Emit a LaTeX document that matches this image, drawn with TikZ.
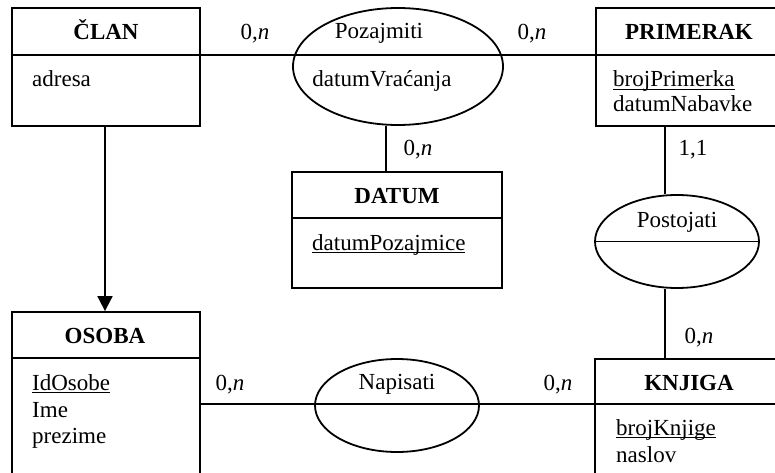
\documentclass[tikz,border=0pt]{standalone}
\usepackage{fontspec}
\setmainfont{Liberation Serif}
\usetikzlibrary{shapes.geometric,arrows.meta}
\newcommand\erfont{\fontsize{23}{27}\selectfont}
\newcommand\undl[1]{\setbox0=\hbox{#1}\rlap{\rule[-3pt]{\wd0}{1.4pt}}\box0}
\tikzset{
  line/.style={line width=1.8pt},
  entity/.style={draw,line width=1.8pt,rectangle,inner sep=0pt},
  rel/.style={draw,line width=1.8pt,ellipse,inner sep=0pt},
  ttl/.style={anchor=base,inner sep=0pt,font=\erfont\bfseries},
  attr/.style={anchor=base west,inner sep=0pt,font=\erfont},
  lbl/.style={anchor=base,inner sep=0pt,font=\erfont},
}
\begin{document}
\begin{tikzpicture}[x=1pt,y=-1pt]
\useasboundingbox (0,0) rectangle (775,473);
\clip (0,0) rectangle (775,473);
% entities
\node[entity,minimum width=188pt,minimum height=118pt] (clan) at (106,67) {};
\node[entity,minimum width=204pt,minimum height=118pt] (primerak) at (698,67) {};
\node[entity,minimum width=210pt,minimum height=116pt] (datum) at (397,230) {};
\node[entity,minimum width=188pt,minimum height=200pt] (osoba) at (106,412) {};
\node[entity,minimum width=205pt,minimum height=160pt] (knjiga) at (697.5,439) {};
% relationships
\node[rel,minimum width=210pt,minimum height=117pt] (pozajmiti) at (398,66.5) {};
\node[rel,minimum width=164pt,minimum height=93pt] (postojati) at (677,241.5) {};
\node[rel,minimum width=164pt,minimum height=93pt] (napisati) at (397,405.5) {};
% dividers
\draw[line] ([yshift=-48pt]clan.north west) -- ([yshift=-48pt]clan.north east);
\draw[line] ([yshift=-48pt]primerak.north west) -- ([yshift=-48pt]primerak.north east);
\draw[line] ([yshift=-47pt]datum.north west) -- ([yshift=-47pt]datum.north east);
\draw[line] ([yshift=-47pt]osoba.north west) -- ([yshift=-47pt]osoba.north east);
\draw[line] ([yshift=-46pt]knjiga.north west) -- ([yshift=-46pt]knjiga.north east);
\draw[line] (postojati.west) -- (postojati.east);
% connectors
\draw[line] ([yshift=-48pt]clan.north east) -- ([yshift=-48pt]primerak.north west);
\draw[line] ([xshift=-11pt]datum.north) -- ([xshift=-11pt]datum.north |- pozajmiti.south);
\draw[line] ([xshift=70pt]primerak.south west) -- ([xshift=70pt]primerak.south west |- postojati.north);
\draw[line] ([xshift=71pt]knjiga.north west |- postojati.south) -- ([xshift=71pt]knjiga.north west);
\draw[line,-{Triangle[width=15pt,length=15pt]}] ([xshift=-1pt]clan.south) -- ([xshift=-1pt]osoba.north);
\draw[line] ([yshift=-93pt]osoba.north east) -- ([yshift=-46pt]knjiga.north west);
% texts
\node[ttl] (clanT) at (106,40) {ČLAN};
\node[attr] (clanA) at (32,87) {adresa};
\node[ttl] (primT) at (689,40) {PRIMERAK};
\node[attr] (primA) at (613,87) {\undl{brojPrimerka}};
\node[attr] (primB) at (613,112) {datumNabavke};
\node[ttl] (datT) at (397,203) {DATUM};
\node[attr] (datA) at (312,250) {\undl{datumPozajmice}};
\node[ttl] (osT) at (105,343) {OSOBA};
\node[attr] (osA) at (32,390) {\undl{IdOsobe}};
\node[attr] (osB) at (32,417) {Ime};
\node[attr] (osC) at (32,443) {prezime};
\node[ttl] (knT) at (689,390) {KNJIGA};
\node[attr] (knA) at (616,435) {\undl{brojKnjige}};
\node[attr] (knB) at (616,462) {naslov};
\node[lbl] (pozT) at (379,39) {Pozajmiti};
\node[lbl] (pozA) at (382,87) {datumVraćanja};
\node[lbl] (posT) at (677,227) {Postojati};
\node[lbl] (napT) at (397,389) {Napisati};
% cardinalities
\node[lbl] (c1) at (255,40) {0,\textit{n}};
\node[lbl] (c2) at (532,40) {0,\textit{n}};
\node[lbl] (c3) at (418,156) {0,\textit{n}};
\node[lbl] (c4) at (693,156) {1,1};
\node[lbl] (c5) at (699,343) {0,\textit{n}};
\node[lbl] (c6) at (230,390) {0,\textit{n}};
\node[lbl] (c7) at (558,390) {0,\textit{n}};
\end{tikzpicture}
\end{document}
